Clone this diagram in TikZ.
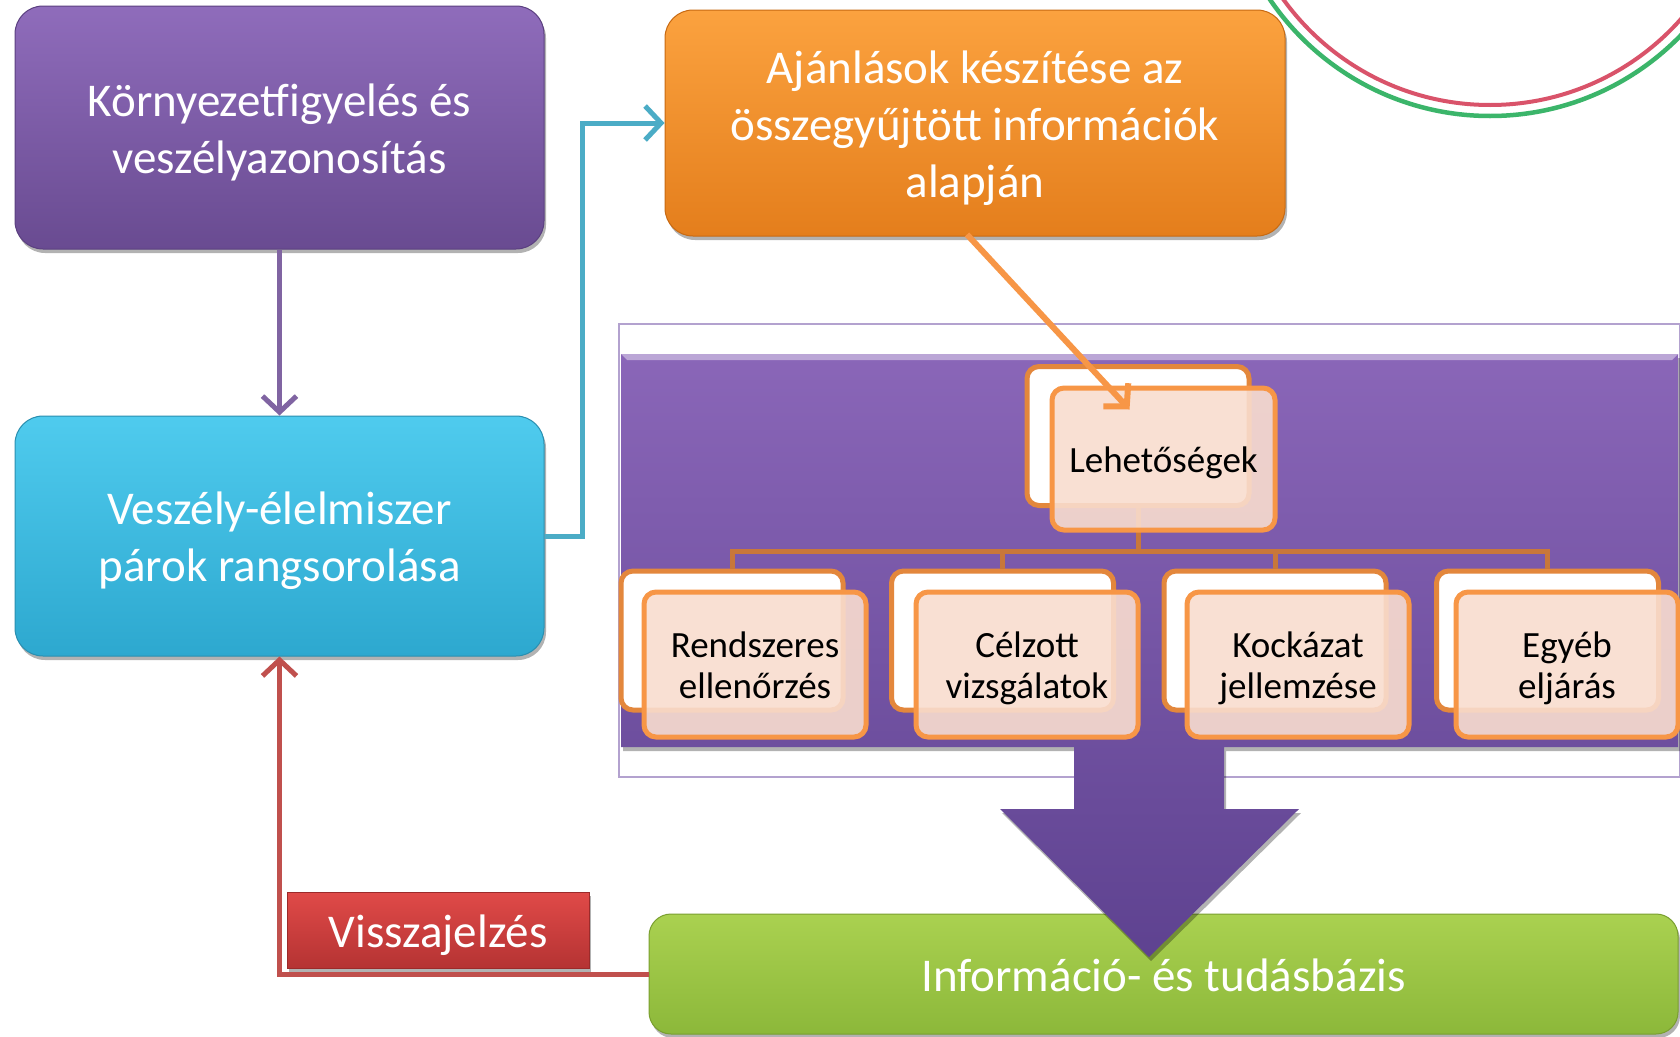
\documentclass[tikz,border=0pt]{standalone}
\usepackage{fontspec}
\setmainfont{Carlito}
\usetikzlibrary{arrows.meta,shadows,calc}
\definecolor{pu1}{HTML}{8F6CBB}
\definecolor{pu2}{HTML}{694B91}
\definecolor{pu3}{HTML}{5B4080}
\definecolor{cy1}{HTML}{4FCBEE}
\definecolor{cy2}{HTML}{2DA8CF}
\definecolor{cy3}{HTML}{2A8FB0}
\definecolor{or1}{HTML}{FBA23F}
\definecolor{or2}{HTML}{E47E1C}
\definecolor{or3}{HTML}{C86A12}
\definecolor{gr1}{HTML}{AAD150}
\definecolor{gr2}{HTML}{8CB83A}
\definecolor{gr3}{HTML}{7A9F30}
\definecolor{rd1}{HTML}{E04A48}
\definecolor{rd2}{HTML}{B53333}
\definecolor{rd3}{HTML}{9C2A2A}
\definecolor{bp1}{HTML}{8A66B8}
\definecolor{bp2}{HTML}{5E4290}
\definecolor{cpu}{HTML}{8064A2}
\definecolor{ccy}{HTML}{4BACC6}
\definecolor{crd}{HTML}{C0504D}
\definecolor{cor}{HTML}{F79646}
\definecolor{ctree}{HTML}{C8773A}
\definecolor{cback}{HTML}{E3873C}
\definecolor{cpink}{HTML}{F9DDCF}
\definecolor{cthin}{HTML}{B3A2CF}
\definecolor{arcred}{HTML}{D9536A}
\definecolor{arcgreen}{HTML}{3BB56A}
\newcommand{\stt}{\rule{0pt}{1.0em}}
\newcommand{\stb}{\rule[-0.27em]{0pt}{0.27em}}
\begin{document}
\begin{tikzpicture}[x=1pt,y=-1pt,
  shadowed/.style={drop shadow={shadow xshift=2pt,shadow yshift=-4pt,opacity=0.3,fill=black}},
  mainbox/.style={rounded corners=28pt, line width=1pt, inner sep=0pt, shadowed,
    font=\fontsize{47}{57}\selectfont, text=white, align=center},
  backbox/.style={rounded corners=12pt, draw=cback, fill=white, line width=5pt,
    minimum width=222pt, minimum height=139pt, inner sep=0pt},
  frontbox/.style={rounded corners=12pt, draw=cor, fill=cpink, fill opacity=0.9,
    text opacity=1, line width=5pt, minimum width=222pt, minimum height=145pt,
    inner sep=0pt, font=\fontsize{37}{41}\selectfont, text=black, align=center},
  tree/.style={draw=ctree, line width=5pt},
  conn/.style={line width=5pt, -{Straight Barb[length=16pt,width=34pt]}},
]
\useasboundingbox (0,0) rectangle (1680,1036);
\fill[white] (0,0) rectangle (1680,1036);

% decorative arcs top right
\draw[arcgreen, line width=4.5pt] (1490,-150) circle[radius=266pt];
\draw[arcred, line width=4pt] (1490,-150) circle[radius=255pt];

% green knowledge base box (drawn first, the big arrow overlaps it)
\node[mainbox, rounded corners=22pt, top color=gr1, bottom color=gr2, draw=gr3,
  minimum width=1029pt, minimum height=120pt] (kb) at (1163.5,974)
  {\stt Információ- és tudásbázis\stb};

% outline frame and big purple arrow
\draw[cthin, line width=1.5pt] (619,324) rectangle (1680,777);
\path[top color=bp1, bottom color=bp2, shadowed]
  (621,354) -- (1678,354) -- (1678,747) -- (1224,747) -- (1224,809) -- (1299,809)
  -- (1149,957) -- (1000,809) -- (1074,809) -- (1074,747) -- (621,747) -- cycle;
\fill[white!60!bp1, opacity=0.7] (621,354) -- (1678,354) -- (1672,360) -- (627,360) -- cycle;

% main boxes
\node[mainbox, top color=pu1, bottom color=pu2, draw=pu3,
  minimum width=529pt, minimum height=243pt] (env) at (279.5,127.5)
  {\stt Környezetfigyelés és\\veszélyazonosítás\stb};
\node[mainbox, top color=cy1, bottom color=cy2, draw=cy3,
  minimum width=529pt, minimum height=240pt] (rank) at (279.5,536)
  {\stt Veszély-élelmiszer\\párok rangsorolása\stb};
\node[mainbox, top color=or1, bottom color=or2, draw=or3,
  minimum width=620pt, minimum height=226pt] (rec) at (975,123)
  {\stt Ajánlások készítése az\\összegyűjtött információk\\alapján\stb};

% tree
\node[backbox] (lb) at (1138,436) {};
\node[backbox] (cb1) at (732,640.5) {};
\node[backbox] (cb2) at (1002.5,640.5) {};
\node[backbox] (cb3) at (1275,640.5) {};
\node[backbox] (cb4) at (1547.5,640.5) {};
\coordinate (bus) at (1138,551);
\draw[tree] (lb.south) -- (bus);
\draw[tree] (cb1.north) |- (bus) -| (cb4.north);
\draw[tree] (cb2.north) -- (cb2.north |- bus);
\draw[tree] (cb3.north) -- (cb3.north |- bus);
\node[frontbox, minimum width=223pt, minimum height=142pt] (lf) at (1163.5,459) {\stt Lehetőségek\stb};
\node[frontbox] (f1) at (755,664.5) {\stt Rendszeres\\ellenőrzés\stb};
\node[frontbox] (f2) at (1027,664.5) {\stt Célzott\\vizsgálatok\stb};
\node[frontbox] (f3) at (1298,664.5) {\stt Kockázat\\jellemzése\stb};
\node[frontbox] (f4) at (1567,664.5) {\stt Egyéb\\eljárás\stb};

% connectors
\draw[conn, cpu] (env.south) -- (rank.north);
\draw[conn, ccy] (rank.east) -- ++(38,0) |- (rec.west);
\draw[conn, crd] (kb.west) -| (rank.south);

% feedback label
\node[mainbox, rounded corners=0pt, top color=rd1, bottom color=rd2, draw=rd3,
  minimum width=302pt, minimum height=76pt] (fb) at (438,930) {\stt Visszajelzés\stb};

% orange arrow into Lehetőségek
\coordinate (ltip) at ($(lf.north west)+(80,24)$);
\draw[conn, cor, line width=6pt] ($(rec.south)+(-8,-2)$) -- (ltip);
\end{tikzpicture}
\end{document}
